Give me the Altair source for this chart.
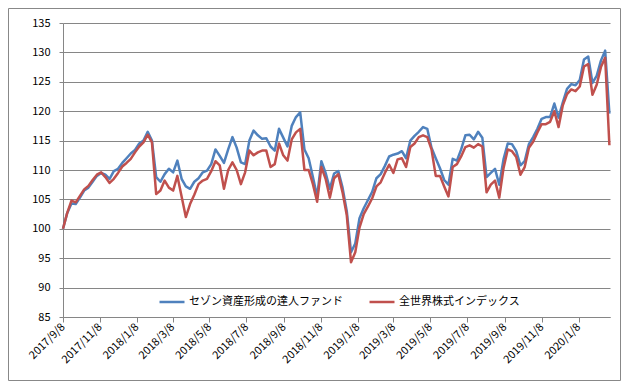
import altair as alt
import pandas as pd

START = "2017-09-08"
SERIES_NAMES = ["セゾン資産形成の達人ファンド", "全世界株式インデックス"]
COLORS = ["#4F81BD", "#C0504D"]

fund = [100, 102.7, 104.3, 104.2, 105.3, 106.5, 107, 108, 109, 109.5,
        109.2, 108.5, 109.8, 110.2, 111.2, 112, 112.8, 113.4, 114.5, 115,
        116.5, 115, 108.8, 108, 109.3, 110.2, 109.6, 111.6, 108.5, 107.2,
        106.8, 108, 108.6, 109.6, 109.9, 111, 113.5, 112.4, 111.2, 113.5,
        115.6, 113.8, 111.3, 111, 115, 116.7, 115.9, 115.3, 115.4, 114,
        113.3, 117, 115.5, 114, 117.5, 119, 119.8, 113.5, 112, 108.8,
        105.5, 111.5, 109.5, 106.8, 109.4, 109.8, 107, 103, 96, 97.5,
        101.8, 103.5, 104.9, 106.3, 108.6, 109.3, 110.7, 112.3, 112.6, 112.8,
        113.2, 112, 115, 115.8, 116.5, 117.3, 117, 113.8, 112, 110.3,
        108.3, 107.5, 111.9, 111.6, 113.5, 115.9, 116, 115.2, 116.5, 115.5,
        108.8, 109.5, 110.2, 107.5, 111.8, 114.5, 114.4, 113.2, 110.8, 111.5,
        114.4, 115.6, 117, 118.7, 119, 119, 121.3, 118.9, 121.5, 123.8,
        124.6, 124.4, 125.3, 128.8, 129.3, 124.8, 126, 128.6, 130.3, 119.6]

world = [100, 102.7, 104.8, 104.5, 105.6, 106.7, 107.3, 108.3, 109.2, 109.6,
         108.8, 107.8, 108.5, 109.5, 110.6, 111.2, 111.9, 113, 114, 114.7,
         116, 114.7, 105.9, 106.5, 108.2, 107, 106.5, 109, 105.5, 102,
         104.2, 105.8, 107.6, 108.2, 108.5, 109.8, 111.5, 110.8, 106.8, 110,
         111.3, 110, 107.6, 109.6, 113.3, 112.5, 113, 113.3, 113.3, 110.5,
         111, 114.5, 112.5, 111.6, 115.2, 116.4, 117, 110, 110, 107.6,
         104.6, 110.5, 108.5, 105.3, 108.6, 109.3, 106.2, 102.3, 94.3, 96,
         100.2, 102.5, 103.8, 105.2, 107.2, 107.9, 109.5, 110.9, 109.5, 111.8,
         112, 110.5, 113.9, 114.5, 115.6, 115.9, 115.6, 113.5, 109, 109,
         107.2, 105.5, 110.5, 111, 112.3, 113.9, 114.2, 113.8, 114.4, 114,
         106.2, 107.5, 108.2, 105.3, 110.3, 113.5, 113.2, 112.2, 109.2, 110.5,
         113.8, 114.8, 116.4, 117.8, 117.8, 118.2, 120, 117.3, 121, 122.9,
         123.7, 123.4, 124.2, 127.6, 128, 122.8, 124.5, 127.5, 129.1, 114.2]

tick_dates = ["2017-09-08", "2017-11-08", "2018-01-08", "2018-03-08", "2018-05-08",
              "2018-07-08", "2018-09-08", "2018-11-08", "2019-01-08", "2019-03-08",
              "2019-05-08", "2019-07-08", "2019-09-08", "2019-11-08", "2020-01-08"]
y_ticks = [85, 90, 95, 100, 105, 110, 115, 120, 125, 130, 135]
x_domain = ["2017-09-08", "2020-02-29"]

dates = pd.date_range(START, periods=len(fund), freq="7D").strftime("%Y-%m-%d")
df = pd.concat([
    pd.DataFrame({"date": dates, "value": fund, "series": SERIES_NAMES[0]}),
    pd.DataFrame({"date": dates, "value": world, "series": SERIES_NAMES[1]}),
])


def dt(s):
    y, m, d = (int(p) for p in s.split("-"))
    return alt.DateTime(year=y, month=m, date=d, utc=True)


FONT = "Noto Sans CJK JP"
GRID = "#868686"

x_enc = alt.X(
    "date:T",
    scale=alt.Scale(type="utc", domain=[dt(s) for s in x_domain]),
    axis=alt.Axis(
        values=[dt(s) for s in tick_dates],
        labelExpr="utcFormat(datum.value, '%Y') + '/' + (utcmonth(datum.value) + 1) + '/' + utcdate(datum.value)",
        labelAngle=-45, labelAlign="right", labelBaseline="middle",
        tickSize=5, tickColor=GRID, domainColor=GRID, grid=False,
        labelPadding=3, labelFontSize=11, labelFont=FONT, labelColor="black",
        labelOverlap=False, title=None,
    ),
)
y_enc = alt.Y(
    "value:Q",
    scale=alt.Scale(domain=[85, 135], nice=False, zero=False),
    axis=alt.Axis(
        values=y_ticks, grid=True, gridColor=GRID, gridWidth=1, gridOpacity=1,
        domainColor=GRID, tickColor=GRID, tickSize=4, labelPadding=9,
        labelFontSize=11, labelFont=FONT, labelColor="black", title=None,
    ),
)
color_enc = alt.Color(
    "series:N",
    scale=alt.Scale(domain=SERIES_NAMES, range=COLORS),
    legend=alt.Legend(
        orient="none", legendX=95, legendY=265, direction="horizontal", title=None,
        symbolType="stroke", symbolSize=625, symbolStrokeWidth=2.5,
        labelFont=FONT, labelFontSize=11, labelColor="black", labelLimit=400,
        labelOffset=3, columnPadding=21, padding=0,
    ),
)

frame = alt.Chart(pd.DataFrame({"a": [0]})).mark_rect(
    fill="transparent", stroke="#888888", strokeWidth=1
).encode(x=alt.value(-54.5), x2=alt.value(557.5), y=alt.value(-14.5), y2=alt.value(357.5))

lines = [
    alt.Chart(df[df["series"] == name]).mark_line(strokeWidth=2.5, strokeJoin="round")
    .encode(x=x_enc, y=y_enc, color=color_enc)
    for name in SERIES_NAMES
]

chart = alt.layer(*lines, frame).properties(
    width=547, height=294, autosize=alt.AutoSizeParams(type="none"),
    padding={"left": 55, "top": 15, "right": 11, "bottom": 64},
).configure_view(stroke="transparent")

chart.save("out.html", embed_options={"renderer": "svg", "actions": False})
